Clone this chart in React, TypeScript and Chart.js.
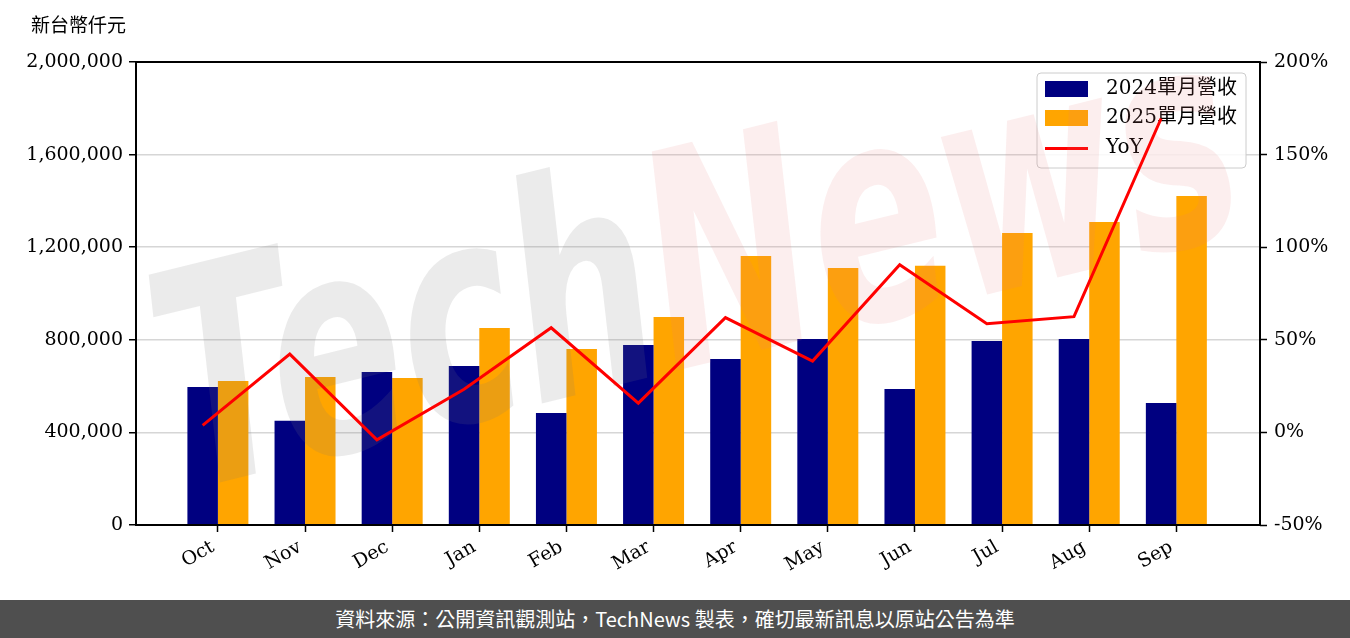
import React, { useEffect, useRef } from 'react';
import { Chart, registerables } from 'chart.js';

Chart.register(...registerables);

const months = ['Oct', 'Nov', 'Dec', 'Jan', 'Feb', 'Mar', 'Apr', 'May', 'Jun', 'Jul', 'Aug', 'Sep'];
const rev2024 = [596000, 450000, 661000, 687000, 484000, 778000, 717000, 803000, 587000, 795000, 803000, 527000];
const rev2025 = [622000, 639000, 635000, 851000, 760000, 898000, 1162000, 1110000, 1120000, 1261000, 1309000, 1421000];
const yoy = [3.8, 42.3, -4.0, 23.3, 56.5, 15.8, 62.0, 38.5, 90.5, 58.7, 62.5, 169.5];
const seriesNames = ['2024單月營收', '2025單月營收', 'YoY'];
const unitLabel = '新台幣仟元';
const footerText = '資料來源：公開資訊觀測站，TechNews 製表，確切最新訊息以原站公告為準';

const NAVY = '#000080';
const ORANGE = '#FFA500';
const RED = '#FF0000';
const FONT = '"DejaVu Serif", "Noto Sans CJK TC", serif';
const BAR_W = 0.35;

const decorPlugin = {
  id: 'decor',
  beforeDatasetsDraw(chart: any) {
    const ctx = chart.ctx;
    const a = chart.chartArea;
    const bx = a.right - 223;
    const by = a.top + 11;
    const bw = 209;
    const bh = 95;
    ctx.save();
    ctx.beginPath();
    if ((ctx as any).roundRect) (ctx as any).roundRect(bx, by, bw, bh, 4);
    else ctx.rect(bx, by, bw, bh);
    ctx.fillStyle = 'rgba(255,255,255,0.85)';
    ctx.fill();
    ctx.strokeStyle = '#cccccc';
    ctx.lineWidth = 1;
    ctx.stroke();
    ctx.fillStyle = NAVY;
    ctx.fillRect(bx + 8, by + 8, 43, 16);
    ctx.fillStyle = ORANGE;
    ctx.fillRect(bx + 8, by + 37, 43, 16);
    ctx.strokeStyle = RED;
    ctx.lineWidth = 3;
    ctx.beginPath();
    ctx.moveTo(bx + 8, by + 75.5);
    ctx.lineTo(bx + 51, by + 75.5);
    ctx.stroke();
    ctx.fillStyle = '#000';
    ctx.font = '20px ' + FONT;
    ctx.textBaseline = 'middle';
    ctx.textAlign = 'left';
    ctx.fillText(seriesNames[0], bx + 69, by + 16);
    ctx.fillText(seriesNames[1], bx + 69, by + 45);
    ctx.fillText(seriesNames[2], bx + 69, by + 75);
    ctx.restore();
  },
  beforeDatasetDraw(chart: any, args: any) {
    if (args.index !== 2) return;
    const ctx = chart.ctx;
    ctx.save();
    ctx.translate(250, 475);
    ctx.rotate(-0.24);
    ctx.font = 'italic bold 300px "DejaVu Sans", sans-serif';
    ctx.textBaseline = 'alphabetic';
    ctx.textAlign = 'left';
    const w1 = ctx.measureText('Tech').width;
    const w2 = ctx.measureText('News').width;
    const total = w1 + w2;
    const sx = 1100 / total;
    ctx.scale(sx, 1);
    ctx.translate(-100, 0);
    ctx.fillStyle = 'rgba(120,120,120,0.15)';
    ctx.fillText('Tech', 0, 0);
    ctx.fillStyle = 'rgba(230,120,120,0.13)';
    ctx.fillText('News', w1, 0);
    ctx.restore();
  },
  afterDraw(chart: any) {
    const ctx = chart.ctx;
    const a = chart.chartArea;
    ctx.save();
    ctx.strokeStyle = '#000';
    ctx.lineWidth = 2;
    ctx.strokeRect(a.left, a.top, a.right - a.left, a.bottom - a.top);
    ctx.fillStyle = '#000';
    ctx.font = '19px ' + FONT;
    ctx.textBaseline = 'middle';
    ctx.textAlign = 'left';
    ctx.fillText(unitLabel, 31, 27);
    ctx.restore();
  },
};

export default function App() {
  const ref = useRef<HTMLCanvasElement | null>(null);

  useEffect(() => {
    document.body.style.margin = '0';
    const canvas = ref.current;
    if (!canvas) return;
    const tickFont = { family: FONT, size: 19 };
    const chart = new Chart(canvas, {
      data: {
        datasets: [
          {
            type: 'bar',
            label: seriesNames[0],
            data: rev2024.map((v, i) => ({ x: i, y: v })),
            backgroundColor: NAVY,
            yAxisID: 'y',
            categoryPercentage: BAR_W * 2,
            barPercentage: 1,
            order: 1,
          },
          {
            type: 'bar',
            label: seriesNames[1],
            data: rev2025.map((v, i) => ({ x: i, y: v })),
            backgroundColor: ORANGE,
            yAxisID: 'y',
            categoryPercentage: BAR_W * 2,
            barPercentage: 1,
            order: 1,
          },
          {
            type: 'line',
            label: seriesNames[2],
            data: yoy.map((v, i) => ({ x: i - BAR_W / 2, y: v })),
            borderColor: RED,
            borderWidth: 3,
            pointRadius: 0,
            tension: 0,
            yAxisID: 'y1',
            order: 0,
          },
        ],
      } as any,
      options: {
        responsive: false,
        animation: false,
        devicePixelRatio: 1,
        layout: { padding: { top: 62, left: 0, right: 0, bottom: 0 } },
        plugins: { legend: { display: false }, tooltip: { enabled: false }, title: { display: false } },
        scales: {
          x: {
            type: 'linear',
            min: -0.94,
            max: 11.96,
            offset: false,
            grid: { offset: false, drawOnChartArea: false, drawTicks: true, tickLength: 7, tickColor: '#000', tickWidth: 1.5 },
            border: { display: false },
            ticks: {
              stepSize: 1,
              includeBounds: false,
              autoSkip: false,
              maxRotation: 30,
              minRotation: 30,
              padding: 4,
              labelOffset: -5,
              color: '#000',
              font: tickFont,
              callback: (v: any) => months[Math.round(Number(v))] ?? '',
            },
            afterFit: (s: any) => {
              s.height = 75;
            },
          },
          y: {
            type: 'linear',
            position: 'left',
            min: 0,
            max: 2000000,
            grid: { color: '#d6d6d6', lineWidth: 1.5, tickLength: 7, tickColor: '#000', tickWidth: 1.5 },
            border: { display: false },
            ticks: {
              stepSize: 400000,
              padding: 6,
              color: '#000',
              font: tickFont,
              callback: (v: any) => Number(v).toLocaleString('en-US'),
            },
            afterFit: (s: any) => {
              s.width = 136;
            },
          },
          y1: {
            type: 'linear',
            position: 'right',
            min: -50,
            max: 200,
            grid: { drawOnChartArea: false, tickLength: 7, tickColor: '#000', tickWidth: 1.5 },
            border: { display: false },
            ticks: {
              stepSize: 50,
              padding: 7,
              color: '#000',
              font: tickFont,
              callback: (v: any) => v + '%',
            },
            afterFit: (s: any) => {
              s.width = 90;
            },
          },
        },
      } as any,
      plugins: [decorPlugin],
    });
    return () => chart.destroy();
  }, []);

  return (
    <div style={{ position: 'relative', width: 1350, height: 638, background: '#fff', overflow: 'hidden' }}>
      <canvas ref={ref} width={1350} height={600} style={{ display: 'block', width: 1350, height: 600 }} />
      <div
        style={{
          position: 'absolute',
          left: 0,
          top: 600,
          width: 1350,
          height: 38,
          background: '#4f4f4f',
          color: '#fff',
          fontFamily: '"Noto Sans CJK TC", "Noto Sans", sans-serif',
          fontSize: 20,
          lineHeight: '38px',
          textAlign: 'center',
        }}
      >
        {footerText}
      </div>
    </div>
  );
}
